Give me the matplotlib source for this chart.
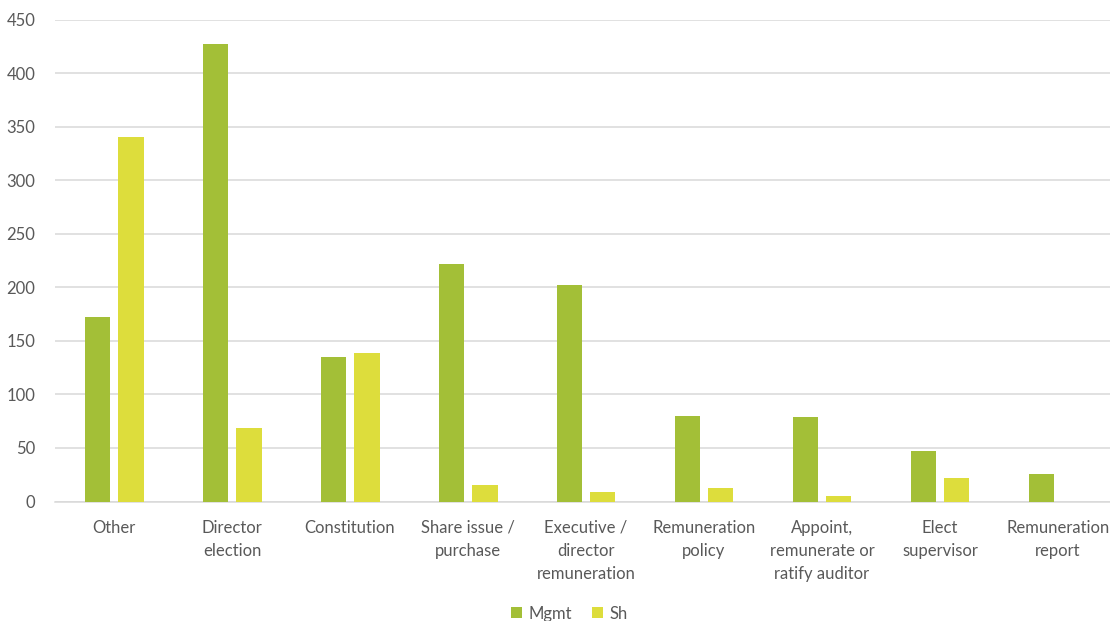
import numpy as np
import matplotlib
matplotlib.use("Agg")
import matplotlib.pyplot as plt

# data
categories = ["Other", "Director\nelection", "Constitution", "Share issue /\npurchase",
              "Executive /\ndirector\nremuneration", "Remuneration\npolicy",
              "Appoint,\nremunerate or\nratify auditor", "Elect\nsupervisor",
              "Remuneration\nreport"]
mgmt = [172, 427, 135, 222, 202, 80, 79, 47, 26]
sh = [340, 69, 139, 15, 9, 13, 5, 22, 0]
series_names = ["Mgmt", "Sh"]
yticks = [0, 50, 100, 150, 200, 250, 300, 350, 400, 450]

green = "#a3bf37"
yellow = "#dddd3c"
grey_txt = "#595959"
grid_col = "#d9d9d9"

plt.rcParams['font.family'] = ['Lato', 'DejaVu Sans']

fig = plt.figure(figsize=(11.1, 6.21), dpi=100)
ax = fig.add_axes([55 / 1110, 0.1924, 1062 / 1110, 0.776])

x = np.arange(len(categories))
w = 0.22
off = 0.14
ax.bar(x - off, mgmt, w, color=green, label=series_names[0], zorder=3)
ax.bar(x + off, sh, w, color=yellow, label=series_names[1], zorder=3)

ax.set_xlim(-0.5, len(categories) - 0.5)
ax.set_ylim(0, 450)
ax.set_yticks(yticks)
ax.set_xticks(x)
ax.set_xticklabels(categories, linespacing=1.55)
ax.tick_params(axis='both', length=0, labelsize=12, colors=grey_txt)
ax.tick_params(axis='x', pad=13)
ax.tick_params(axis='y', pad=14)

ax.grid(axis='y', color=grid_col, linewidth=1.1, zorder=0)
for s in ["top", "right", "left"]:
    ax.spines[s].set_visible(False)
ax.spines["bottom"].set_color(grid_col)
ax.spines["bottom"].set_linewidth(1.1)

fig.legend(loc='lower center', bbox_to_anchor=(0.513, -0.025), ncol=2, frameon=False,
           fontsize=12, labelcolor=grey_txt, handlelength=0.65, handleheight=0.65,
           handletextpad=0.4, columnspacing=1.2)

fig.savefig("out.png", dpi=100)
